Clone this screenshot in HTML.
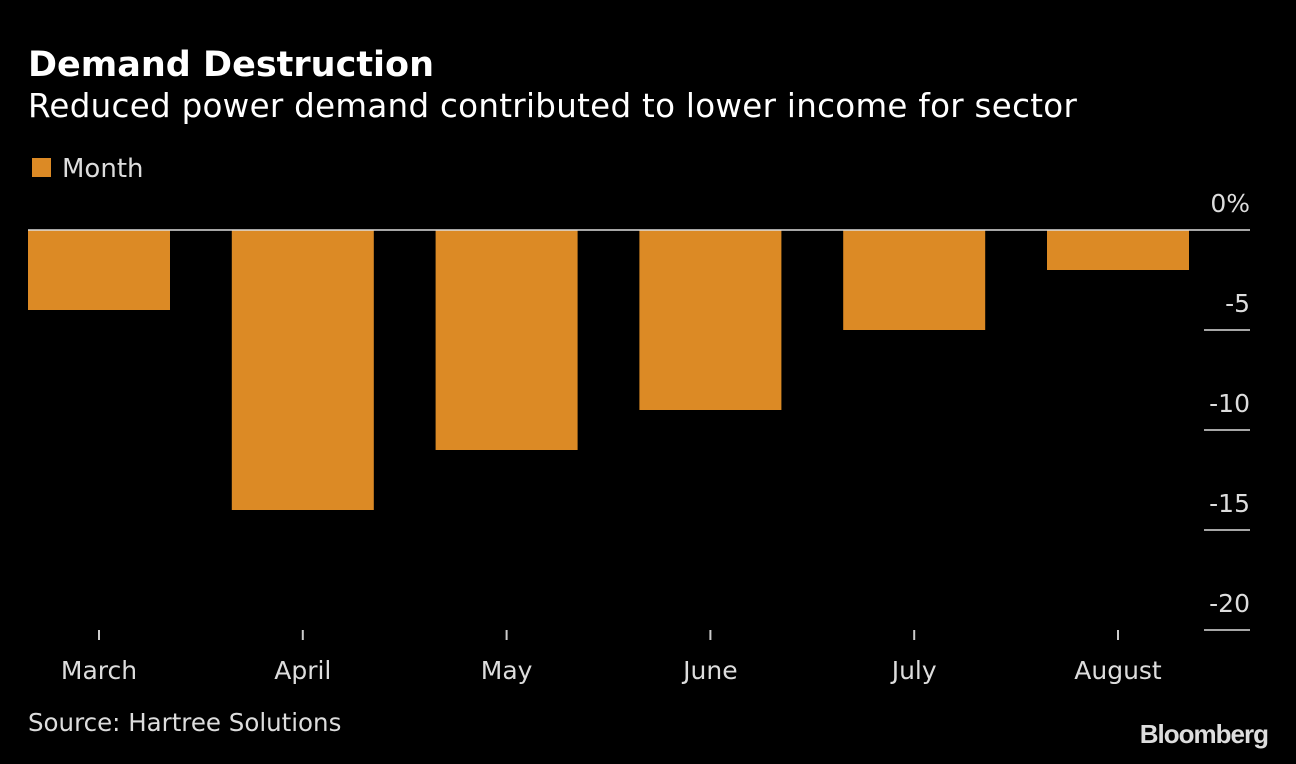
<!DOCTYPE html>
<html><head><meta charset="utf-8">
<style>
body{margin:0;background:#000;width:1296px;height:760px;overflow:hidden;font-family:"DejaVu Sans","Liberation Sans",sans-serif;color:#fff}
svg text{font-family:"DejaVu Sans","Liberation Sans",sans-serif}
</style></head><body>
<svg width="1296" height="760">
<text x="28" y="76" font-size="35" font-weight="bold" fill="#fff">Demand Destruction</text>
<text x="28" y="117" font-size="32.5" fill="#fff" style="letter-spacing:0.3px">Reduced power demand contributed to lower income for sector</text>
<rect x="32" y="158" width="19" height="19" fill="#dc8a25"/>
<text x="62" y="177" font-size="26" fill="#ddd">Month</text>
<g id="plot"></g>
<text x="28" y="731" font-size="24.5" fill="#ddd">Source: Hartree Solutions</text>
<text x="1268" y="743" font-size="26" font-weight="bold" fill="#ddd" text-anchor="end" style="font-family:'Liberation Sans',sans-serif;letter-spacing:-1px">Bloomberg</text>
</svg>
<script>
const categories=["March","April","May","June","July","August"];
const values=[-4,-14,-11,-9,-5,-2];
const yTicks=[0,-5,-10,-15,-20];
const yTickLabels=["0%","-5","-10","-15","-20"];
const ns="http://www.w3.org/2000/svg";
const g=document.getElementById("plot");
const y=v=>230-v*20;
const xc=i=>99+i*203.8;
function mk(t,a){const e=document.createElementNS(ns,t);for(const k in a)e.setAttribute(k,a[k]);g.appendChild(e);return e;}
categories.forEach((c,i)=>{
  const v=values[i];
  const r=mk("rect",{x:xc(i)-71,y:Math.min(y(0),y(v)),width:142,height:Math.abs(y(v)-y(0)),fill:"#dc8a25"});
  
  
  const t=mk("line",{x1:xc(i),x2:xc(i),y1:630,y2:640,stroke:"#ccc","stroke-width":2});
  
  
  const l=mk("text",{x:xc(i),y:679,"font-size":25,fill:"#ddd","text-anchor":"middle"});
  l.textContent=c;
  
  
});
yTicks.forEach((v,i)=>{
  if(v===0){
    const z=mk("line",{x1:28,x2:1250,y1:y(0),y2:y(0),stroke:"#ddd","stroke-width":1.5});
    
    
  } else {
    const t=mk("line",{x1:1204,x2:1250,y1:y(v),y2:y(v),stroke:"#ddd","stroke-width":1.5});
    
    
  }
  const l=mk("text",{x:1250,y:y(v)-18,"font-size":25,fill:"#ddd","text-anchor":"end"});
  l.textContent=yTickLabels[i];
  
  
});
</script>
</body></html>
